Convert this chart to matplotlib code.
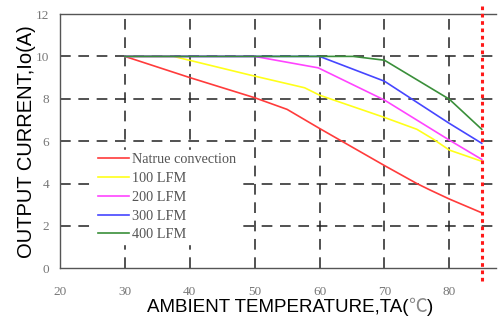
import matplotlib
matplotlib.use("Agg")
import matplotlib.pyplot as plt
from matplotlib.offsetbox import TextArea, HPacker, AnchoredOffsetbox

# derating curves
nat_x = [30, 40, 50, 55, 60, 70, 75, 77, 80, 85]
nat_y = [10, 9.0, 8.05, 7.5, 6.6, 4.85, 4.0, 3.7, 3.27, 2.62]
lfm100_x = [30, 37.5, 49.3, 57.7, 60, 70, 75, 77.5, 80, 85]
lfm100_y = [10, 10, 9.12, 8.52, 8.17, 7.12, 6.56, 6.1, 5.58, 5.05]
lfm200_x = [30, 50, 59.8, 70, 80, 85]
lfm200_y = [10, 10, 9.46, 7.94, 6.05, 5.14]
lfm300_x = [30, 60, 70, 80, 85]
lfm300_y = [10, 10, 8.83, 6.84, 5.9]
lfm400_x = [30, 65.2, 70, 80, 85]
lfm400_y = [10, 10, 9.82, 7.98, 6.56]

labels = ["Natrue convection", "100 LFM", "200 LFM", "300 LFM", "400 LFM"]
colors = ["#ff3b3b", "#ffff1a", "#ff44ff", "#4646ff", "#3a8f3a"]
xticks = [20, 30, 40, 50, 60, 70, 80]
yticks = [0, 2, 4, 6, 8, 10, 12]
limit_x = 85

fig = plt.figure(figsize=(5.03, 3.23), dpi=100)
ax = fig.add_axes([0.1193, 0.1693, 0.8662, 0.7873])

series = [(nat_x, nat_y), (lfm100_x, lfm100_y), (lfm200_x, lfm200_y),
          (lfm300_x, lfm300_y), (lfm400_x, lfm400_y)]
for (xs, ys), lab, c in zip(series, labels, colors):
    ax.plot(xs, ys, color=c, lw=1.2, label=lab, zorder=3)

ax.set_xlim(20, 87.15)
ax.set_ylim(0, 12)
ax.set_xticks(xticks)
ax.set_yticks(yticks)

# dashed grid, skipping the 20 line
for x in xticks[1:]:
    ax.axvline(x, color="#222222", lw=1.1, ls=(0, (7, 5)), zorder=1)
for y in yticks[1:-1]:
    ax.axhline(y, color="#222222", lw=1.1, ls=(0, (7, 5)), zorder=1)

ax.plot([limit_x, limit_x], [-0.6, 12.45], color="#ff1a1a", lw=2.2,
        ls=(0, (1.2, 1.2)), clip_on=False, zorder=4)

for s in ["left", "top", "bottom"]:
    ax.spines[s].set_color("#555555")
    ax.spines[s].set_linewidth(1.0)
ax.spines["right"].set_visible(False)

ax.tick_params(length=0, labelsize=9.5, labelcolor="#777777")
ax.tick_params(axis="x", pad=12.5)
ax.tick_params(axis="y", pad=8)
for t in ax.get_xticklabels() + ax.get_yticklabels():
    t.set_family("Liberation Serif")

ax.set_ylabel("OUTPUT CURRENT,Io(A)", fontsize=14.5,
              family=["Liberation Sans", "DejaVu Sans"], labelpad=0)

# x label in pieces so the degree sign can be the grey full-width glyph
xl_font = dict(fontsize=13.5, family="Liberation Sans", color="black")
parts = [TextArea("AMBIENT TEMPERATURE,TA(", textprops=xl_font),
         TextArea("℃", textprops=dict(fontsize=13.5, family="Noto Sans CJK SC",
                                      color="#888888")),
         TextArea(")", textprops=xl_font)]
xl_box = HPacker(children=parts, align="baseline", pad=0, sep=0)
fig.add_artist(AnchoredOffsetbox(loc="center", child=xl_box, pad=0,
                                 frameon=False, bbox_to_anchor=(0.577, 0.052),
                                 bbox_transform=fig.transFigure))

leg = ax.legend(loc="upper left", bbox_to_anchor=(0.064, 0.493),
                frameon=True, fancybox=False, edgecolor="white",
                framealpha=1, handlelength=2.2, handletextpad=0.15,
                labelspacing=0.41, borderpad=0.2,
                prop={"family": "Liberation Serif", "size": 10.3})
for t in leg.get_texts():
    t.set_color("#555555")
leg.set_zorder(5)

fig.savefig("out.png", dpi=100)
